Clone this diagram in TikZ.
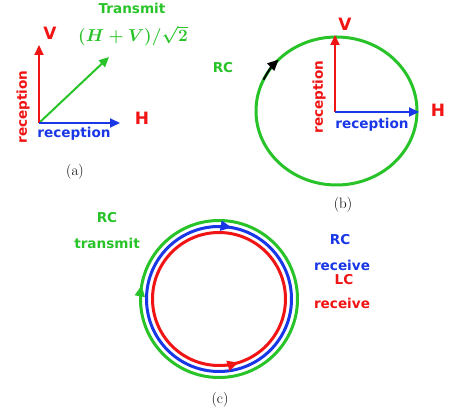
\documentclass[tikz,border=0pt]{standalone}
\usepackage{fontspec}
\usetikzlibrary{arrows.meta,calc}
\newfontfamily\labfont{DejaVu Sans}
\definecolor{cgreen}{RGB}{40,195,40}
\definecolor{cred}{RGB}{240,20,20}
\definecolor{cblue}{RGB}{25,55,230}
\tikzset{
  lab/.style={font=\labfont\bfseries\fontsize{13.6}{15}\selectfont, inner sep=0pt},
  big/.style={font=\labfont\bfseries\fontsize{17}{19}\selectfont, inner sep=0pt},
  captxt/.style={font=\fontsize{15}{17}\selectfont, inner sep=0pt},
  axis/.style={line width=2pt, -{Triangle[length=10pt,width=9pt]}},
  ring/.style={line width=3pt},
  tip/.style={line width=2pt, -{Triangle[length=11pt,width=10pt]}}
}
\begin{document}
\begin{tikzpicture}[x=1pt,y=1pt]
\useasboundingbox (0,0) rectangle (454,417);
% ---------- (a)
\coordinate (oa) at (39,294);
\coordinate (va) at (39,372);
\coordinate (ha) at (120,294);
\coordinate (ta) at (109,360);
\draw[axis,cgreen] (oa) -- (ta);
\draw[axis,cred] (oa) -- (va);
\draw[axis,cblue] (oa) -- (ha);
\node[big,text=cred] (Va) at (50,384) {V};
\node[big,text=cred] (Ha) at (142,299) {H};
\node[lab,text=cgreen] (tr) at (132,409) {Transmit};
\node[text=cgreen,inner sep=0pt,font=\fontsize{16.5}{18}\selectfont\boldmath] (fo) at (133,381) {$(H+V)/\sqrt{2}$};
\node[lab,text=cred,rotate=90] (ra) at (23,310) {reception};
\node[lab,text=cblue] (ba) at (74,283) {reception};
\node[captxt] (ca) at (75,245) {(a)};
% ---------- (b)
\coordinate (cb) at (336.5,306);
\draw[ring,cgreen] (cb) ellipse[x radius=80.5,y radius=74];
\draw[tip,black] ($(cb)+(155:80.5 and 74)$) arc[start angle=155,end angle=136,x radius=80.5,y radius=74];
\coordinate (ob) at (335,305);
\coordinate (vb) at (335,382);
\coordinate (hb) at (419,305);
\draw[axis,cred] (ob) -- (vb);
\draw[axis,cblue] (ob) -- (hb);
\node[big,text=cred] (Vb) at (345,393) {V};
\node[big,text=cred] (Hb) at (438,307) {H};
\node[lab,text=cgreen] (rcb) at (223,349) {RC};
\node[lab,text=cred,rotate=90] (rb) at (319,320) {reception};
\node[lab,text=cblue] (bb) at (372,292) {reception};
\node[captxt] (cbl) at (343,212) {(b)};
% ---------- (c)
\coordinate (cc) at (219,118);
\draw[ring,cgreen] (cc) circle[radius=78.5];
\draw[ring,cblue] (cc) circle[radius=72.5];
\draw[ring,cred] (cc) circle[radius=66.5];
\draw[tip,cgreen] ($(cc)+(190:78.5)$) arc[start angle=190,end angle=170,radius=78.5];
\draw[tip,cblue] ($(cc)+(100:72.5)$) arc[start angle=100,end angle=80,radius=72.5];
\draw[tip,cred] ($(cc)+(-95:66.5)$) arc[start angle=-95,end angle=-73,radius=66.5];
\node[lab,text=cgreen] (rcc) at (107,199) {RC};
\node[lab,text=cgreen] (trc) at (107,174) {transmit};
\node[lab,text=cblue] (rcr) at (340,177) {RC};
\node[lab,text=cblue] (rcv) at (342,152) {receive};
\node[lab,text=cred] (lcr) at (344,137) {LC};
\node[lab,text=cred] (lcv) at (342,114) {receive};
\node[captxt] (ccl) at (220,17) {(c)};
\end{tikzpicture}
\end{document}
